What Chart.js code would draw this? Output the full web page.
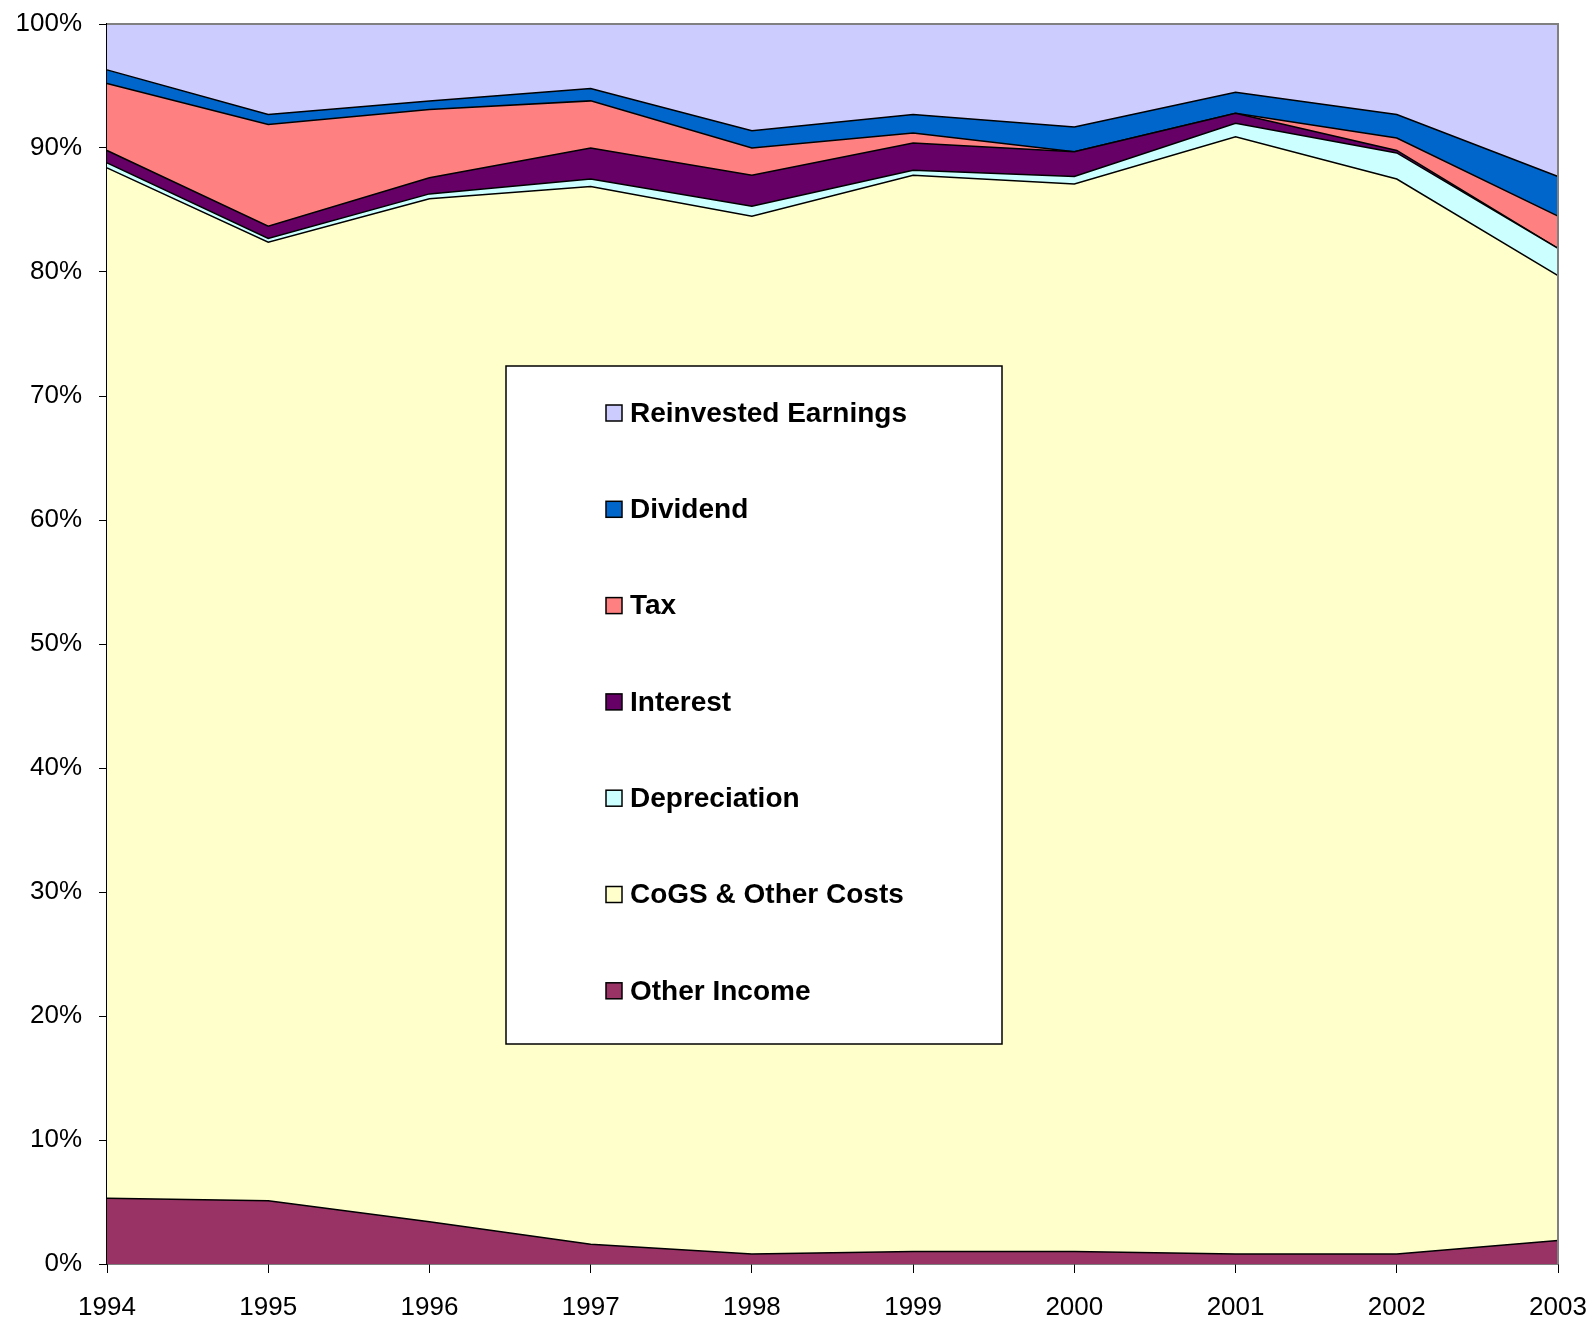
<!DOCTYPE html>
<html>
<head>
<meta charset="utf-8">
<script src="https://cdn.jsdelivr.net/npm/chart.js@4/dist/chart.umd.min.js"></script>
<style>
  body { margin: 0; background: #fff; }
  canvas { display: block; }
</style>
</head>
<body>
<canvas id="chartProfit" width="1592" height="1324"></canvas>
<script>
// shares of revenue, in %
const years = ["1994", "1995", "1996", "1997", "1998", "1999", "2000", "2001", "2002", "2003"];
const otherIncome  = [5.3, 5.1, 3.4, 1.6, 0.8, 1.0, 1.0, 0.8, 0.8, 1.9];
const cogs         = [83.1, 77.3, 82.5, 85.3, 83.7, 86.8, 86.1, 90.1, 86.7, 77.8];
const depreciation = [0.4, 0.3, 0.4, 0.6, 0.8, 0.4, 0.6, 1.1, 2.1, 2.2];
const interest     = [1.0, 1.0, 1.3, 2.5, 2.5, 2.2, 2.0, 0.8, 0.2, 0.0];
const tax          = [5.4, 8.2, 5.5, 3.8, 2.2, 0.8, 0.0, 0.0, 1.0, 2.6];
const dividend     = [1.1, 0.8, 0.7, 1.0, 1.4, 1.5, 2.0, 1.7, 1.9, 3.2];
const reinvested   = [3.7, 7.3, 6.2, 5.2, 8.6, 7.3, 8.3, 5.5, 7.3, 12.3];

const seriesNames = ["Other Income", "CoGS & Other Costs", "Depreciation", "Interest", "Tax", "Dividend", "Reinvested Earnings"];
const seriesData = [otherIncome, cogs, depreciation, interest, tax, dividend, reinvested];
const seriesColors = ["#993366", "#FFFFCC", "#CCFFFF", "#660066", "#FF8080", "#0066CC", "#CCCCFF"];

const FONT = "'Liberation Sans', Arial, sans-serif";

const datasets = seriesNames.map(function (name, i) {
  return {
    label: name,
    data: seriesData[i],
    backgroundColor: seriesColors[i],
    borderColor: "#000",
    borderWidth: 1.5,
    fill: i == 0 ? "origin" : "-1",
    pointRadius: 0,
    tension: 0
  };
});

// box round the plot + legend drawn inside the plot area
const framePlugin = {
  id: "frame",
  afterDatasetsDraw(chart) {
    const ctx = chart.ctx;
    const a = chart.chartArea;
    ctx.save();
    ctx.strokeStyle = "#808080";
    ctx.lineWidth = 2;
    ctx.beginPath();
    ctx.moveTo(a.left, a.top);
    ctx.lineTo(a.right, a.top);
    ctx.lineTo(a.right, a.bottom);
    ctx.stroke();
    ctx.restore();
  },
  afterDraw(chart) {
    const ctx = chart.ctx;
    const boxX = 506, boxY = 366, boxW = 496, boxH = 678;
    ctx.save();
    ctx.fillStyle = "#fff";
    ctx.fillRect(boxX, boxY, boxW, boxH);
    ctx.strokeStyle = "#000";
    ctx.lineWidth = 1.5;
    ctx.strokeRect(boxX, boxY, boxW, boxH);

    const ds = chart.data.datasets.slice().reverse();
    ctx.font = "bold 28px " + FONT;
    ctx.textBaseline = "middle";
    ds.forEach(function (d, i) {
      const cy = 413 + i * 96.3;
      ctx.fillStyle = d.backgroundColor;
      ctx.fillRect(606, cy - 8, 16, 16);
      ctx.strokeStyle = "#000";
      ctx.lineWidth = 1.5;
      ctx.strokeRect(606, cy - 8, 16, 16);
      ctx.fillStyle = "#000";
      ctx.fillText(d.label, 630, cy + 1);
    });
    ctx.restore();
  }
};

const config = {
  type: "line",
  data: { labels: years, datasets: datasets },
  options: {
    responsive: false,
    animation: false,
    devicePixelRatio: 1,
    layout: { padding: { top: 24, right: 34, left: 0, bottom: 0 } },
    plugins: {
      legend: { display: false },
      tooltip: { enabled: false },
      title: { display: false }
    },
    scales: {
      x: {
        offset: false,
        grid: { drawOnChartArea: false, drawTicks: true, tickLength: 9, color: "#000" },
        border: { color: "#000", width: 1.5 },
        ticks: { color: "#000", font: { family: FONT, size: 26 }, padding: 19, maxRotation: 0, autoSkip: false },
        afterFit(scale) {
          scale.height = 60;
          scale.paddingLeft = 0;
          scale.paddingRight = 0;
        }
      },
      y: {
        stacked: true,
        min: 0,
        max: 100,
        grid: { drawOnChartArea: false, drawTicks: true, tickLength: 8, color: "#000" },
        border: { color: "#000", width: 1.5 },
        ticks: {
          stepSize: 10,
          color: "#000",
          font: { family: FONT, size: 26 },
          padding: 17,
          callback: function (v) { return v + "%"; }
        },
        afterFit(scale) {
          scale.width = 107;
          scale.paddingTop = 0;
          scale.paddingBottom = 0;
        }
      }
    }
  },
  plugins: [framePlugin]
};

const myChart = new Chart(document.getElementById("chartProfit"), config);
</script>
</body>
</html>
